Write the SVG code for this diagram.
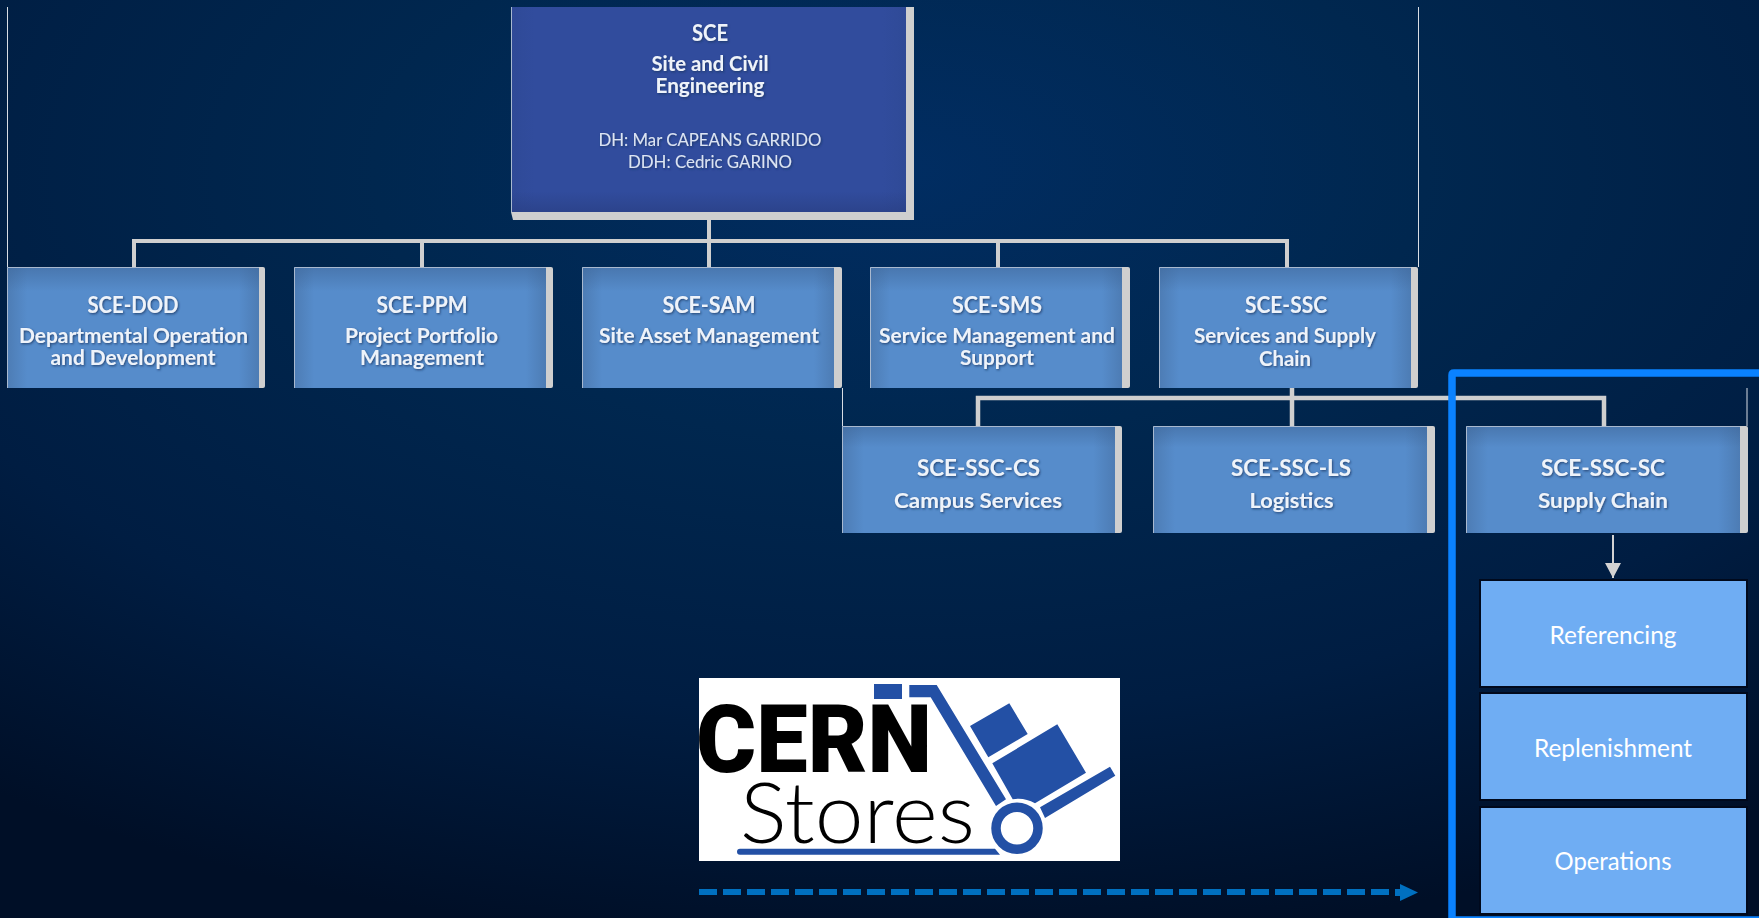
<svg xmlns="http://www.w3.org/2000/svg" width="1759" height="918" viewBox="0 0 1759 918">
<defs>
<radialGradient id="bg" gradientUnits="userSpaceOnUse" cx="0" cy="0" r="1" gradientTransform="translate(900 170) scale(1500 780)">
<stop offset="0" stop-color="#012d62"/><stop offset=".35" stop-color="#00274f"/><stop offset=".7" stop-color="#001d42"/><stop offset="1" stop-color="#000f27"/>
</radialGradient>
<linearGradient id="h1" x1="0" x2="1" y1="0" y2="0"><stop offset="0" stop-color="#4d7cb4"/><stop offset=".08" stop-color="#568ccb"/><stop offset=".92" stop-color="#568ccb"/><stop offset="1" stop-color="#4d7cb4"/></linearGradient>
<linearGradient id="v1" x1="0" x2="0" y1="0" y2="1"><stop offset="0" stop-color="#3d6597" stop-opacity=".55"/><stop offset=".2" stop-color="#3d6597" stop-opacity="0"/></linearGradient>
<linearGradient id="h2" x1="0" x2="1" y1="0" y2="0"><stop offset="0" stop-color="#2f4a97"/><stop offset=".06" stop-color="#314c9d"/><stop offset=".94" stop-color="#314c9d"/><stop offset="1" stop-color="#2f4a97"/></linearGradient>
<linearGradient id="v2" x1="0" x2="0" y1="0" y2="1"><stop offset=".9" stop-color="#283d80" stop-opacity="0"/><stop offset="1" stop-color="#283d80" stop-opacity=".6"/></linearGradient>
<filter id="ts" x="-10%" y="-30%" width="120%" height="170%"><feDropShadow dx="1" dy="1.2" stdDeviation=".8" flood-color="#1d3560" flood-opacity=".8"/></filter>
<marker id="ah" markerUnits="userSpaceOnUse" markerWidth="16" markerHeight="16" refX="15" refY="8" orient="auto"><path d="M0 0L15 8L0 16Z" fill="#d3d3d3"/></marker>
</defs>
<style>
text{font-family:Lato,"Open Sans","Liberation Sans",sans-serif;text-anchor:middle;fill:#eef3fa}
.t{font-size:23px;font-weight:700}
.s{font-size:20px;font-weight:700}
.r{font-size:17.5px;font-weight:400;fill:#dbe4f3}
.sh{filter:url(#ts)}
.p{font-size:24.5px;font-weight:400;fill:#fff}
.side{fill:#cfcfcf}
.b1{fill:url(#h1)}.o1{fill:url(#v1)}
.edge{fill:none;stroke:#a9b9cf;stroke-width:1}
.bar{fill:none;stroke:#cfcfcf;stroke-width:4}
.thin{fill:none;stroke:#d8dde4;stroke-width:1}
.sub{fill:#6fadf3;stroke:#00091c;stroke-width:2}
.lg{fill:#2350a5}
</style>
<rect width="1759" height="918" fill="url(#bg)"/>
<g id="connectors">
<path class="thin" d="M7.5 7V267M1418.5 7V267M842.5 388V426M1747 388V426"/>
<path class="bar" d="M709 212V267M134 267V241H1287V267M422 241V267M998 241V267"/>
<path class="bar" style="stroke-width:4.5" d="M1292 388V427M978 427V398H1604V427"/>
<path d="M1613 535V578" fill="none" stroke="#d3d3d3" stroke-width="2" marker-end="url(#ah)"/>
<path d="M699 892H1392" fill="none" stroke="#0070c0" stroke-width="6" stroke-dasharray="18 6"/>
<path d="M1395 889H1400V884L1418 892.5L1400 901V896H1395Z" fill="#0070c0"/>
</g>
<g id="sce">
<path d="M511 7H914V220H513L511 212Z" fill="#cfcfcf"/>
<rect x="511" y="7" width="395" height="205" fill="url(#h2)"/><rect x="511" y="7" width="395" height="205" fill="url(#v2)"/>
<path class="edge" d="M511.5 7V212"/>
<g class="sh"><text class="t" x="710" y="41" textLength="36" lengthAdjust="spacingAndGlyphs">SCE</text>
<text class="s" x="710" y="71" textLength="117" lengthAdjust="spacingAndGlyphs">Site and Civil</text>
<text class="s" x="710" y="93" textLength="109" lengthAdjust="spacingAndGlyphs">Engineering</text>
<text class="r" x="710" y="145.5" textLength="223" lengthAdjust="spacingAndGlyphs">DH: Mar CAPEANS GARRIDO</text>
<text class="r" x="710" y="168" textLength="164" lengthAdjust="spacingAndGlyphs">DDH: Cedric GARINO</text></g>
</g>
<g id="sce-dod">
<rect class="side" x="250" y="267" width="15" height="121" rx="2"/><rect class="b1" x="7" y="267" width="252" height="121"/><rect class="o1" x="7" y="267" width="252" height="121"/>
<path class="edge" d="M7.5 388V267.5H259"/>
<g class="sh"><text class="t" x="133" y="313" textLength="91" lengthAdjust="spacingAndGlyphs">SCE-DOD</text>
<text class="s" x="133.5" y="343" textLength="229" lengthAdjust="spacingAndGlyphs">Departmental Operation</text>
<text class="s" x="133" y="365" textLength="165" lengthAdjust="spacingAndGlyphs">and Development</text></g>
</g>
<g id="sce-ppm">
<rect class="side" x="538" y="267" width="15" height="121" rx="2"/><rect class="b1" x="294" y="267" width="252" height="121"/><rect class="o1" x="294" y="267" width="252" height="121"/>
<path class="edge" d="M294.5 388V267.5H546"/>
<g class="sh"><text class="t" x="422" y="313" textLength="91" lengthAdjust="spacingAndGlyphs">SCE-PPM</text>
<text class="s" x="421.500" y="343" textLength="153" lengthAdjust="spacingAndGlyphs">Project Portfolio</text>
<text class="s" x="422" y="365" textLength="124" lengthAdjust="spacingAndGlyphs">Management</text></g>
</g>
<g id="sce-sam">
<rect class="side" x="827" y="267" width="15" height="121" rx="2"/><rect class="b1" x="582" y="267" width="252" height="121"/><rect class="o1" x="582" y="267" width="252" height="121"/>
<path class="edge" d="M582.5 388V267.5H834"/>
<g class="sh"><text class="t" x="709" y="313" textLength="93" lengthAdjust="spacingAndGlyphs">SCE-SAM</text>
<text class="s" x="709" y="343" textLength="220" lengthAdjust="spacingAndGlyphs">Site Asset Management</text></g>
</g>
<g id="sce-sms">
<rect class="side" x="1115" y="267" width="15" height="121" rx="2"/><rect class="b1" x="870" y="267" width="252" height="121"/><rect class="o1" x="870" y="267" width="252" height="121"/>
<path class="edge" d="M870.5 388V267.5H1122"/>
<g class="sh"><text class="t" x="997" y="313" textLength="90" lengthAdjust="spacingAndGlyphs">SCE-SMS</text>
<text class="s" x="997" y="343" textLength="236" lengthAdjust="spacingAndGlyphs">Service Management and</text>
<text class="s" x="997" y="365" textLength="74" lengthAdjust="spacingAndGlyphs">Support</text></g>
</g>
<g id="sce-ssc">
<rect class="side" x="1403" y="267" width="15" height="121" rx="2"/><rect class="b1" x="1159" y="267" width="252" height="121"/><rect class="o1" x="1159" y="267" width="252" height="121"/>
<path class="edge" d="M1159.5 388V267.5H1411"/>
<g class="sh"><text class="t" x="1286" y="313" textLength="82" lengthAdjust="spacingAndGlyphs">SCE-SSC</text>
<text class="s" x="1285" y="343" textLength="182" lengthAdjust="spacingAndGlyphs">Services and Supply</text>
<text class="s" x="1285" y="365.500" textLength="52" lengthAdjust="spacingAndGlyphs">Chain</text></g>
</g>
<g id="sce-ssc-cs">
<rect class="side" x="1107" y="426" width="15" height="107" rx="2"/><rect class="b1" x="842" y="426" width="273" height="107"/><rect class="o1" x="842" y="426" width="273" height="107"/>
<path class="edge" d="M842.5 533V426.5H1115"/>
<g class="sh"><text class="t" x="978.5" y="475.500" textLength="123" lengthAdjust="spacingAndGlyphs">SCE-SSC-CS</text>
<text class="s" x="978" y="508" textLength="168" lengthAdjust="spacingAndGlyphs">Campus Services</text></g>
</g>
<g id="sce-ssc-ls">
<rect class="side" x="1420" y="426" width="15" height="107" rx="2"/><rect class="b1" x="1153" y="426" width="274" height="107"/><rect class="o1" x="1153" y="426" width="274" height="107"/>
<path class="edge" d="M1153.5 533V426.5H1427"/>
<g class="sh"><text class="t" x="1291" y="475.500" textLength="120" lengthAdjust="spacingAndGlyphs">SCE-SSC-LS</text>
<text class="s" x="1291.500" y="508" textLength="84" lengthAdjust="spacingAndGlyphs">Logistics</text></g>
</g>
<g id="sce-ssc-sc">
<rect class="side" x="1733" y="426" width="15" height="107" rx="2"/><rect class="b1" x="1466" y="426" width="274" height="107"/><rect class="o1" x="1466" y="426" width="274" height="107"/>
<path class="edge" d="M1466.5 533V426.5H1740"/>
<g class="sh"><text class="t" x="1603" y="475.500" textLength="124" lengthAdjust="spacingAndGlyphs">SCE-SSC-SC</text>
<text class="s" x="1603" y="508" textLength="130" lengthAdjust="spacingAndGlyphs">Supply Chain</text></g>
</g>
<g id="referencing"><rect class="sub" x="1480" y="580" width="267" height="107"/><text class="p" x="1613" y="643.500" textLength="127" lengthAdjust="spacingAndGlyphs">Referencing</text></g>
<g id="replenishment"><rect class="sub" x="1480" y="693" width="267" height="107"/><text class="p" x="1613" y="756.500" textLength="158" lengthAdjust="spacingAndGlyphs">Replenishment</text></g>
<g id="operations"><rect class="sub" x="1480" y="807" width="267" height="107"/><text class="p" x="1613" y="870" textLength="117" lengthAdjust="spacingAndGlyphs">Operations</text></g>
<g id="supply-chain-frame"><path d="M1759 373H1454Q1452 373 1452 375V920H1759" fill="none" stroke="#0a82ff" stroke-width="7.5"/></g>
<g id="cern-stores-logo">
<rect x="699" y="678" width="421" height="183" fill="#fff"/>
<text x="814" y="772" textLength="236" lengthAdjust="spacingAndGlyphs" style="font-family:Roboto,'Liberation Sans',sans-serif;font-size:94px;font-weight:900;fill:#000">CERN</text>
<text x="857.500" y="843" textLength="235" lengthAdjust="spacingAndGlyphs" style="font-size:85px;font-weight:300;fill:#000">Stores</text>
<path class="lg" d="M874 684H902V699H874ZM909.3 685H936.7L1006 799.3L996 806L930.7 697.3H909.3ZM970 726L1009.3 703.3L1027.7 734L988.3 757.3ZM992.3 763.3L1057.3 724.3L1086 772.7L1035 803.3Q1024 797 1012.7 799.3ZM1040 807.3L1110 766.7L1115.3 775.7L1045 818ZM740 848.7H995L1000 854.7H740Q737 854.7 737 851.7T740 848.7Z"/>
<circle cx="1017" cy="828.3" r="21" fill="#fff" stroke="#2350a5" stroke-width="9.5"/>
</g>
</svg>
